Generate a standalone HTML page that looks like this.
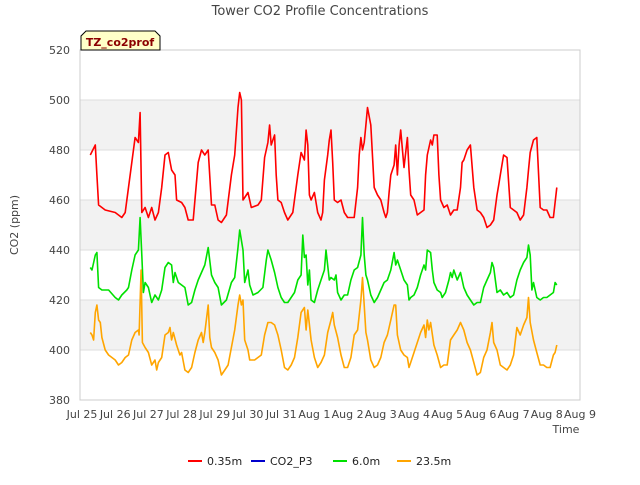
<!DOCTYPE html>
<html><head><meta charset="utf-8"><style>
body{margin:0;background:#fff;width:640px;height:480px;overflow:hidden;font-family:"Liberation Sans","DejaVu Sans",sans-serif}
svg text{font-family:"DejaVu Sans","Liberation Sans",sans-serif}
</style></head><body>
<svg id="chart" width="640" height="480">
<text x="320" y="15" text-anchor="middle" font-size="13" fill="#444">Tower CO2 Profile Concentrations</text>
<g id="bands"></g><g id="grid"></g>
<rect x="80" y="50" width="500" height="350" fill="none" stroke="#ccc"/>
<g id="yticks"></g><g id="xticks"></g><g id="series"></g>
<text transform="translate(18,225) rotate(-90)" text-anchor="middle" font-size="11" fill="#444">CO2 (ppm)</text>
<text x="566" y="433" text-anchor="middle" font-size="11" fill="#444">Time</text>
<g>
<path d="M81,50 L81,36 L86,31 L155,31 L160,36 L160,50 Z" fill="#ffffc8" stroke="#000"/>
<text x="120" y="46" text-anchor="middle" font-size="11" font-weight="bold" fill="#8b0000">TZ_co2prof</text></g>
<g id="legend"></g>
</svg>
<script>
const yTicks=[380,400,420,440,460,480,500,520];
const xTickLabels=["Jul 25","Jul 26","Jul 27","Jul 28","Jul 29","Jul 30","Jul 31","Aug 1","Aug 2","Aug 3","Aug 4","Aug 5","Aug 6","Aug 7","Aug 8","Aug 9"];
const redT=[0.25,0.4,0.45,0.5,0.7,1.0,1.2,1.3,1.4,1.5,1.6,1.7,1.75,1.8,1.9,2.0,2.1,2.2,2.3,2.4,2.5,2.6,2.7,2.8,2.85,3.0,3.1,3.2,3.35,3.5,3.6,3.7,3.8,3.9,4.0,4.1,4.2,4.35,4.5,4.6,4.7,4.75,4.8,4.85,4.9,5.0,5.1,5.3,5.4,5.5,5.6,5.65,5.7,5.8,5.85,5.9,6.0,6.1,6.2,6.35,6.5,6.6,6.7,6.75,6.8,6.85,6.9,7.0,7.1,7.2,7.25,7.3,7.4,7.45,7.5,7.55,7.6,7.7,7.8,7.9,8.0,8.1,8.2,8.3,8.35,8.4,8.45,8.5,8.55,8.6,8.7,8.8,8.9,9.0,9.1,9.15,9.2,9.25,9.3,9.4,9.45,9.5,9.55,9.6,9.7,9.8,9.85,9.9,10.0,10.1,10.2,10.3,10.35,10.4,10.5,10.55,10.6,10.7,10.75,10.8,10.9,11.0,11.1,11.2,11.3,11.4,11.45,11.5,11.6,11.7,11.8,11.9,12.0,12.1,12.2,12.3,12.4,12.5,12.55,12.6,12.7,12.8,12.9,13.0,13.1,13.2,13.3,13.4,13.45,13.5,13.6,13.7,13.8,13.9,14.0,14.1,14.15,14.2,14.3];
const redV=[478,482,470,458,456,455,453,455,465,475,485,483,495,455,457,453,457,452,455,465,478,479,472,470,460,459,457,452,452,475,480,478,480,458,458,452,451,454,470,478,497,503,500,460,461,463,457,458,460,477,483,490,482,486,470,460,459,455,452,455,470,479,476,488,482,462,460,463,455,452,455,468,478,484,488,475,460,459,460,455,453,453,453,465,478,485,480,483,490,497,490,465,462,460,455,453,455,463,470,474,482,470,482,488,473,485,472,462,460,454,455,456,470,478,484,482,486,486,470,460,457,458,454,456,456,465,475,476,480,482,465,456,455,453,449,450,452,462,466,470,478,477,457,456,455,452,454,465,472,479,484,485,457,456,456,453,453,453,465,458,470,465];
const blueT=[];const blueV=[];
const greenT=[0.25,0.3,0.4,0.45,0.5,0.6,0.8,1.0,1.1,1.2,1.35,1.4,1.5,1.6,1.7,1.75,1.8,1.85,1.9,2.0,2.1,2.2,2.3,2.4,2.5,2.6,2.7,2.75,2.8,2.9,3.0,3.1,3.2,3.3,3.4,3.5,3.6,3.7,3.8,3.9,4.0,4.1,4.2,4.35,4.5,4.6,4.7,4.75,4.85,4.9,5.0,5.05,5.15,5.3,5.45,5.55,5.6,5.7,5.8,5.9,6.0,6.1,6.2,6.4,6.5,6.6,6.65,6.7,6.75,6.8,6.85,6.9,7.0,7.1,7.2,7.3,7.35,7.45,7.5,7.6,7.65,7.7,7.8,7.9,8.0,8.1,8.2,8.3,8.4,8.45,8.5,8.55,8.6,8.7,8.8,8.9,9.0,9.1,9.2,9.3,9.4,9.45,9.5,9.6,9.7,9.8,9.85,9.9,10.0,10.1,10.2,10.3,10.35,10.4,10.5,10.55,10.6,10.7,10.8,10.85,10.95,11.05,11.1,11.15,11.2,11.3,11.4,11.5,11.6,11.7,11.8,11.9,12.0,12.1,12.2,12.3,12.35,12.4,12.5,12.6,12.7,12.8,12.9,13.0,13.1,13.2,13.3,13.4,13.45,13.5,13.55,13.6,13.7,13.8,13.9,14.0,14.1,14.2,14.25,14.3];
const greenV=[433,432,438,439,425,424,424,421,420,422,424,425,432,438,440,453,438,423,427,425,419,422,420,424,433,435,434,427,431,427,426,425,418,419,424,428,431,434,441,430,427,425,418,420,427,429,441,448,440,427,432,426,422,423,425,436,440,436,431,425,421,419,419,423,428,430,446,437,438,426,432,420,419,424,428,432,440,428,429,428,430,423,420,422,422,428,432,433,438,453,438,430,428,422,419,421,424,427,428,432,439,434,436,432,428,426,420,421,422,425,430,434,432,440,439,432,427,424,423,421,423,428,431,429,432,428,431,425,422,420,418,419,419,425,428,431,435,433,423,424,422,423,421,422,428,432,435,437,442,438,424,427,421,420,421,421,422,423,427,426];
const orangeT=[0.25,0.3,0.35,0.4,0.45,0.5,0.55,0.6,0.7,0.8,1.0,1.1,1.2,1.3,1.4,1.5,1.6,1.7,1.72,1.78,1.82,1.9,2.0,2.1,2.2,2.25,2.3,2.4,2.5,2.6,2.65,2.7,2.75,2.85,2.95,3.0,3.1,3.2,3.3,3.4,3.5,3.6,3.65,3.7,3.8,3.85,3.9,4.0,4.1,4.2,4.3,4.4,4.5,4.6,4.7,4.75,4.8,4.85,4.9,5.0,5.05,5.2,5.4,5.5,5.6,5.7,5.8,5.9,6.0,6.1,6.2,6.3,6.4,6.5,6.6,6.7,6.75,6.8,6.9,7.0,7.1,7.2,7.3,7.4,7.5,7.55,7.6,7.7,7.8,7.9,8.0,8.1,8.2,8.3,8.4,8.45,8.5,8.55,8.6,8.7,8.8,8.9,9.0,9.1,9.2,9.3,9.4,9.45,9.5,9.6,9.7,9.8,9.85,9.9,10.0,10.1,10.2,10.3,10.35,10.4,10.45,10.5,10.6,10.7,10.8,10.9,11.0,11.1,11.2,11.3,11.4,11.5,11.6,11.7,11.8,11.9,12.0,12.1,12.2,12.3,12.35,12.4,12.5,12.6,12.7,12.8,12.9,13.0,13.1,13.2,13.3,13.4,13.45,13.5,13.6,13.7,13.8,13.9,14.0,14.1,14.2,14.25,14.3];
const orangeV=[407,406,404,415,418,412,411,405,400,398,396,394,395,397,398,404,407,408,406,432,403,401,399,394,396,392,395,397,406,407,409,404,407,402,398,399,392,391,393,399,404,407,403,407,418,405,401,399,396,390,392,394,401,408,418,422,418,420,404,400,396,396,398,406,411,411,410,406,400,393,392,394,397,405,415,417,408,416,404,397,393,395,398,407,412,415,410,405,398,393,393,397,406,408,420,429,418,407,404,396,393,394,397,403,406,412,418,418,406,400,398,397,393,395,399,403,407,410,405,412,408,411,402,398,393,394,394,404,406,408,411,408,403,400,395,390,391,397,400,407,411,403,400,394,393,392,394,398,409,406,410,413,421,411,404,399,394,394,393,393,398,399,402];
const NS="http://www.w3.org/2000/svg";
const X=d=>82+d*33.2, Y=v=>50+(520-v)*2.5;
function mk(tag,attrs,parent){const e=document.createElementNS(NS,tag);for(const k in attrs)e.setAttribute(k,attrs[k]);parent.appendChild(e);return e;}
const bands=document.getElementById('bands'),grid=document.getElementById('grid'),yt=document.getElementById('yticks'),xt=document.getElementById('xticks');
for(let i=0;i<yTicks.length-1;i++){if(i%2===1){const r=mk('rect',{x:80,y:Y(yTicks[i+1]),width:500,height:Y(yTicks[i])-Y(yTicks[i+1]),fill:'#f2f2f2'},bands);

}}
yTicks.forEach(v=>{const l=mk('line',{x1:80,x2:580,y1:Y(v),y2:Y(v),stroke:'#ddd'},grid);


const t=mk('text',{x:70,y:Y(v)+4,'text-anchor':'end','font-size':11,fill:'#444'},yt);t.textContent=v;

});
xTickLabels.forEach((s,i)=>{const t=mk('text',{x:X(i),y:418,'text-anchor':'middle','font-size':11,fill:'#444'},xt);t.textContent=s;

});
const ser=document.getElementById('series');
[[redT,redV,'#ff0000','series-0.35m'],[blueT,blueV,'#0000cc','series-co2-p3'],[greenT,greenV,'#00e000','series-6.0m'],[orangeT,orangeV,'#ffa500','series-23.5m']].forEach(([T,V,c,n])=>{
if(!T.length)return;const p=mk('polyline',{points:T.map((t,i)=>X(t).toFixed(1)+','+Y(V[i]).toFixed(1)).join(' '),fill:'none',stroke:c,'stroke-width':1.6,'stroke-linejoin':'round'},ser);

});
const lg=document.getElementById('legend');
[['0.35m','#ff0000',188],['CO2_P3','#0000cc',251],['6.0m','#00e000',333],['23.5m','#ffa500',397]].forEach(([s,c,x])=>{
const g=mk('g',{},lg);


mk('line',{x1:x,x2:x+14,y1:461,y2:461,stroke:c,'stroke-width':2},g);
const t=mk('text',{x:x+19,y:465,'font-size':11,fill:'#222'},g);t.textContent=s;});
</script>
</body></html>
